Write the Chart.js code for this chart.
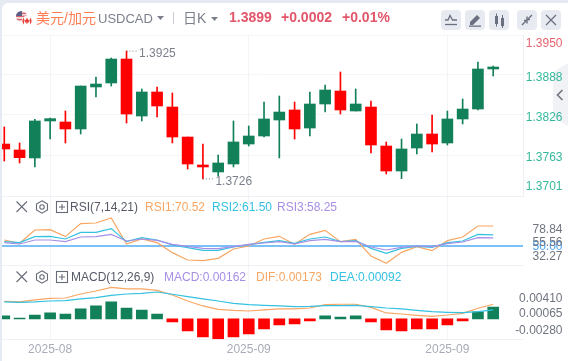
<!DOCTYPE html>
<html><head><meta charset="utf-8">
<script src="https://cdn.jsdelivr.net/npm/chart.js@4/dist/chart.umd.min.js"></script>
<style>
html,body{margin:0;padding:0;width:568px;height:361px;overflow:hidden;background:#e6eaf2;font-family:"Liberation Sans","Noto Sans CJK SC",sans-serif}
#card{position:absolute;left:2px;top:3px;width:566px;height:358px;background:#fff;border-top-left-radius:6px}
#tab{position:absolute;left:553px;top:63px}
canvas{position:absolute;left:0;top:0}
.t{position:absolute;white-space:nowrap;line-height:16px;height:16px}
.b{position:absolute;top:10px;width:20px;height:20px;background:#e8eaf1;border-radius:4px}
.b svg,.i{position:absolute;left:0;top:0}
.i{}
</style></head>
<body>
<div id="card"></div>
<svg id="tab" width="15" height="63"><path d="M15 0L0 9V54L15 63Z" fill="#f1f2f6"/><path d="M9.5 27L4.5 32L9.5 37" fill="none" stroke="#70747f" stroke-width="1.6"/></svg>
<canvas id="c" width="568" height="361"></canvas>

<svg class="i" style="left:14px;top:9px" width="20" height="18">
 <defs><clipPath id="us"><circle cx="7.5" cy="7.5" r="5.5"/></clipPath><clipPath id="ca"><circle cx="13" cy="12" r="4.6"/></clipPath></defs>
 <g clip-path="url(#us)"><rect x="2" y="2" width="11" height="11" fill="#f5e9ea"/><rect x="2" y="3.6" width="11" height="1.5" fill="#d9646c"/><rect x="2" y="6.6" width="11" height="1.5" fill="#d9646c"/><rect x="2" y="9.8" width="11" height="1.5" fill="#d9646c"/><rect x="2" y="2" width="6" height="5" fill="#5a5f86"/></g>
 <circle cx="13" cy="12" r="5.3" fill="#fff"/>
 <g clip-path="url(#ca)"><rect x="8" y="7" width="10" height="10" fill="#fff"/><rect x="8" y="7" width="2" height="10" fill="#e8433c"/><rect x="16" y="7" width="2" height="10" fill="#e8433c"/><path d="M13 8.6L14.2 11L15.8 10.6L15 13.4H13.4V15H12.6V13.4H11L10.2 10.6L11.8 11Z" fill="#e8433c"/></g>
</svg>
<div class="t" style="left:36px;top:10px;font-size:14px;color:#ff7d55" id="pair">美元/加元</div>
<div class="t" style="left:98px;top:11px;font-size:13px;color:#7b808c">USDCAD</div>
<svg class="i" style="left:157px;top:16px" width="7" height="5"><path d="M0 0H7L3.5 4Z" fill="#7b808c"/></svg>
<div style="position:absolute;left:173px;top:12px;width:1px;height:12px;background:#c9ccd4"></div>
<div class="t" style="left:183px;top:10px;font-size:14px;color:#7b808c">日K</div>
<svg class="i" style="left:211px;top:17px" width="7" height="5"><path d="M0 0H7L3.5 4Z" fill="#7b808c"/></svg>
<div class="t" style="left:229px;top:9px;font-size:14px;font-weight:bold;color:#e2566a">1.3899</div>
<div class="t" style="left:281px;top:9px;font-size:14px;font-weight:bold;color:#e2566a">+0.0002</div>
<div class="t" style="left:342px;top:9px;font-size:14px;font-weight:bold;color:#e2566a">+0.01%</div>

<div class="b" style="left:441px"><svg width="20" height="20" fill="none" stroke="#6b7080" stroke-width="1.3"><path d="M4 10H7L9 5.5L11.5 10H16"/><path d="M4 14.5H16"/></svg></div>
<div class="b" style="left:465px"><svg width="20" height="20"><path d="M5 12L12 5L15 8L8 15H5Z" fill="#6b7080"/><rect x="4" y="15.5" width="12" height="1.3" fill="#6b7080"/></svg></div>
<div class="b" style="left:489px"><svg width="20" height="20" fill="#6b7080"><rect x="6" y="6" width="3" height="8"/><rect x="7" y="3.5" width="1" height="13"/><rect x="12" y="8" width="3" height="8"/><rect x="13" y="5" width="1" height="13"/></svg></div>
<div class="b" style="left:517px"><svg width="20" height="20" fill="none" stroke="#6b7080" stroke-width="1.4"><path d="M5 15L9 11M15 5L11 9"/><path d="M7 10.5H10V13.5M13 9.5H10V6.5" /></svg></div>
<div class="b" style="left:541px"><svg width="20" height="20" fill="none" stroke="#6b7080" stroke-width="1.3"><path d="M5 5L15 15M15 5L5 15"/></svg></div>

<svg class="i" style="left:15px;top:200px" width="60" height="14" fill="none" stroke="#666b78" stroke-width="1.1"><path d="M1.5 1.5L12 12M12 1.5L1.5 12"/><path d="M27 0.8L32.5 4V10L27 13.2L21.5 10V4Z"/><circle cx="27" cy="7" r="2.2"/><rect x="41.5" y="1.5" width="11" height="11"/><path d="M44 7H50M47 4V10"/></svg>
<div class="t" style="left:70px;top:199px;font-size:12px;color:#555a66">RSI(7,14,21)</div>
<div class="t" style="left:145px;top:199px;font-size:12px;color:#f7a663">RSI1:70.52</div>
<div class="t" style="left:212px;top:199px;font-size:12px;color:#35c1e0">RSI2:61.50</div>
<div class="t" style="left:277px;top:199px;font-size:12px;color:#a78fe6">RSI3:58.25</div>

<svg class="i" style="left:15px;top:270px" width="60" height="14" fill="none" stroke="#666b78" stroke-width="1.1"><path d="M1.5 1.5L12 12M12 1.5L1.5 12"/><path d="M27 0.8L32.5 4V10L27 13.2L21.5 10V4Z"/><circle cx="27" cy="7" r="2.2"/><rect x="41.5" y="1.5" width="11" height="11"/><path d="M44 7H50M47 4V10"/></svg>
<div class="t" style="left:71px;top:269px;font-size:12px;color:#555a66">MACD(12,26,9)</div>
<div class="t" style="left:164px;top:269px;font-size:12px;color:#a78fe6">MACD:0.00162</div>
<div class="t" style="left:256px;top:269px;font-size:12px;color:#f7a663">DIF:0.00173</div>
<div class="t" style="left:330px;top:269px;font-size:12px;color:#35c1e0">DEA:0.00092</div>

<script>
// ---------- data ----------
const highs =[1.38068,1.37819,1.38187,1.38208,1.38317,1.38706,1.38846,1.39142,1.3925,1.38660,1.38691,1.38597,1.37912,1.37803,1.37632,1.38162,1.38084,1.38457,1.38551,1.38457,1.38613,1.38722,1.38924,1.38660,1.38473,1.37835,1.37881,1.38115,1.38255,1.38317,1.38504,1.39080,1.39017];
const lows  =[1.37539,1.37508,1.37446,1.37881,1.37819,1.37959,1.38535,1.38706,1.38130,1.38162,1.38224,1.37819,1.37414,1.3726,1.37305,1.37446,1.37772,1.37912,1.37586,1.37881,1.37928,1.38301,1.38270,1.38317,1.37663,1.37337,1.37265,1.37648,1.37679,1.37788,1.38115,1.38333,1.38862];
const opens =[1.37803,1.37710,1.37586,1.38162,1.38146,1.38037,1.38691,1.38753,1.39126,1.38239,1.38613,1.38379,1.37912,1.37477,1.37368,1.37492,1.37803,1.37928,1.38177,1.38333,1.38052,1.38426,1.38628,1.38317,1.38379,1.37772,1.37383,1.37741,1.37959,1.37819,1.38193,1.38348,1.38971];
const closes=[1.37726,1.37591,1.38162,1.38198,1.38037,1.38706,1.38737,1.39126,1.38270,1.38613,1.38395,1.37912,1.37492,1.37446,1.37508,1.37835,1.37928,1.38193,1.38301,1.38037,1.38426,1.38644,1.38333,1.38426,1.37788,1.37383,1.37726,1.37959,1.37803,1.38193,1.38348,1.38971,1.39002];

const rsi1=[56.15,52.74,66.41,66.75,59.57,72.91,73.59,78.84,52.05,57.18,53.42,43.16,35.64,34.96,37.35,46.92,50,57.18,59.92,51.71,61.97,66.07,54.44,56.84,39.74,32.27,43.50,49.32,45.21,55.47,59.23,70.51,70.52];
const rsi2=[54.44,53.42,59.57,59.92,57.18,64.02,64.02,67.78,54.44,58.55,56.15,51.03,48.29,45.56,45.56,48.97,51.37,53.76,55.47,52.74,57.18,59.23,54.44,55.47,47.61,42.48,47.61,49.66,48.63,53.42,55.13,61.97,61.50];
const rsi3=[53.42,52.05,56.15,56.15,54.44,59.23,59.57,61.97,55.13,57.18,55.81,51.71,49.66,47.61,47.26,49.32,51.71,53.08,54.44,52.05,55.47,56.84,54.44,54.79,48.97,45.90,48.63,50,49.32,52.39,54.10,58.55,58.25];

const macdHist=[0.0004,0.0001,0.00053,0.00081,0.00067,0.00136,0.00177,0.00232,0.00149,0.00122,0.00067,-0.00042,-0.00166,-0.00248,-0.00275,-0.00248,-0.00207,-0.00138,-0.00084,-0.0007,-0.00029,0.0004,0.00026,0.0004,-0.00042,-0.00152,-0.00166,-0.00138,-0.00138,-0.00084,-0.00029,0.00095,0.00163];
const dif=[0.00241,0.00232,0.00259,0.00282,0.00286,0.00341,0.00382,0.00432,0.00410,0.00410,0.00391,0.00327,0.00245,0.00177,0.00131,0.00117,0.00108,0.00122,0.00136,0.00136,0.00149,0.00195,0.00200,0.00200,0.00158,0.00081,0.00067,0.00049,0.00035,0.00053,0.00076,0.00145,0.00200];
const dea=[0.00232,0.00227,0.00232,0.00245,0.00250,0.00273,0.00291,0.00323,0.00341,0.00350,0.00368,0.00337,0.00305,0.00273,0.00245,0.00213,0.00195,0.00186,0.00177,0.00168,0.00172,0.00181,0.00181,0.00186,0.00168,0.00149,0.00136,0.00117,0.00099,0.00090,0.00085,0.00099,0.00122];

const dateTickIndex=[3,16,29];
const dateTickLabels=['2025-08','2025-09','2025-09'];
const priceTicks=[1.36994,1.3701,1.3763,1.3826,1.3888,1.3950];
const priceTickLabels=['','1.3701','1.3763','1.3826','1.3888','1.3950'];
const rsiTicks=[30.2,32.27,50,55.56,78.84];
const rsiTickLabels=['','32.27','50.00','55.56','78.84'];
const macdTicks=[-0.0028,0.00065,0.0041];
const macdTickLabels=['-0.00280','0.00065','0.00410'];
const extremeLabels={high:'1.3925',low:'1.3726'};

// ---------- styles ----------
const GREEN='#128058',RED='#ff0000',GRID='#f5f6f9',SEP='#eef0f5';
const NUDGE={'1.3950':9,'1.3888':2.7,'1.3826':2.7,'1.3763':2.5,'1.3701':-8,'78.84':12,'55.56':2,'50.00':.7,'32.27':-6.6,'0.00410':9.3,'0.00065':0,'-0.00280':-9};
const idx=highs.map((_,i)=>i);
const pts=a=>a.map((y,i)=>({x:i,y}));
const candleColor=idx.map(i=>closes[i]>=opens[i]?GREEN:RED);
const line=(data,color,yAxisID)=>({type:'line',data:pts(data),yAxisID,borderColor:color,borderWidth:1.2,pointRadius:0,tension:0,fill:false});
const fixedTicks=(vals)=>s=>{s.ticks=vals.map(value=>({value}));};
const noPad=s=>{s.paddingTop=s.paddingBottom=s.paddingLeft=s.paddingRight=0;};
const yBase=(stack,stackWeight,min,max,vals,labels,color,gridColor,lw)=>({
  type:'linear',position:'right',stack,stackWeight,min,max,offset:false,
  afterBuildTicks:fixedTicks(vals),
  afterFit:s=>{s.width=39.5;noPad(s);},
  border:{display:false},
  grid:{drawTicks:false,color:gridColor,lineWidth:lw||1,tickLength:0},
  ticks:{mirror:true,autoSkip:false,padding:39.5,color,font:{size:12,family:'"Liberation Sans",sans-serif'},callback:(v,i)=>labels[i]}
});

const extremes={id:'extremes',afterDatasetsDraw(chart){
  const {ctx,scales:{x,y}}=chart;
  const hi=highs.indexOf(Math.max(...highs)),lo=lows.indexOf(Math.min(...lows));
  ctx.save();ctx.font='12px "Liberation Sans",sans-serif';ctx.fillStyle='#7b808c';ctx.strokeStyle='#7b808c';ctx.textBaseline='middle';ctx.setLineDash([1,2]);ctx.lineWidth=1;
  const hx=x.getPixelForValue(hi),hy=y.getPixelForValue(highs[hi]);
  ctx.beginPath();ctx.moveTo(hx,hy);ctx.lineTo(hx+10,hy);ctx.stroke();
  ctx.fillText(extremeLabels.high,hx+12.5,hy+3);
  const lx=x.getPixelForValue(lo),ly=y.getPixelForValue(lows[lo]);
  ctx.beginPath();ctx.moveTo(lx,ly);ctx.lineTo(lx+10,ly);ctx.stroke();
  ctx.fillText(extremeLabels.low,lx+12.5,ly+2.5);
  ctx.restore();
}};
const nudger={id:'nudger',beforeDraw(chart){
  ['y','yRsi','yMacd'].forEach(k=>chart.scales[k].getLabelItems().forEach(it=>{
    if(!it._n&&NUDGE[it.label]!==undefined){it.options.translation[1]+=NUDGE[it.label];it._n=true;}
  }));
}};

new Chart(document.getElementById('c'),{
  data:{datasets:[
    {type:'bar',data:idx.map(i=>({x:i,y:[lows[i],highs[i]]})),yAxisID:'y',backgroundColor:candleColor,barThickness:1,grouped:false,order:2},
    {type:'bar',data:idx.map(i=>({x:i,y:[opens[i],closes[i]]})),yAxisID:'y',backgroundColor:candleColor,barThickness:11,grouped:false,order:1},
    {...line(rsi3,'#a78fe6','yRsi'),order:1},
    {...line(rsi2,'#35c1e0','yRsi'),order:1},
    {...line(rsi1,'#f7a663','yRsi'),order:1},
    {type:'bar',data:pts(macdHist),yAxisID:'yMacd',backgroundColor:macdHist.map(v=>v>=0?GREEN:RED),barThickness:11,grouped:false,order:2},
    {...line(dea,'#35c1e0','yMacd'),order:1},
    {...line(dif,'#f7a663','yMacd'),order:1}
  ]},
  options:{
    responsive:false,animation:false,events:[],
    layout:{padding:{left:2,right:5.5,top:35,bottom:0}},
    plugins:{legend:{display:false},tooltip:{enabled:false}},
    scales:{
      x:{type:'linear',position:'bottom',min:-0.15,max:33.95,offset:false,
        afterBuildTicks:fixedTicks(dateTickIndex),
        afterFit:s=>{s.height=21.7;noPad(s);},
        border:{display:false},
        grid:{offset:false,drawTicks:false,color:'#f3f4f8'},
        ticks:{autoSkip:false,maxRotation:0,padding:3,color:'#a9acb8',font:{size:12,family:'"Liberation Sans",sans-serif'},callback:(v,i)=>dateTickLabels[i]}},
      y:{...yBase('p',161,1.36994,1.3950,priceTicks,priceTickLabels,
          c=>c.tick.value===1.3950?'#e8636f':'#35b89d',
          c=>c.tick.value===1.3701?'transparent':(c.tick.value===1.36994?SEP:GRID)),
         border:{display:true,color:SEP}},
      yRsi:yBase('p',69.3,30.2,101.28,rsiTicks,rsiTickLabels,
          c=>c.tick.value===50?'#4aa5f5':'#6f7480',
          c=>c.tick.value===50?'#7cc0f8':(c.tick.value===30.2?SEP:'transparent'),
          c=>c.tick.value===50?2:1),
      yMacd:yBase('p',74,-0.0028,0.00734,macdTicks,macdTickLabels,'#6f7480',
          c=>c.tick.value===-0.0028?SEP:'transparent')
    }
  },
  plugins:[nudger,extremes]
});
</script>
</body></html>
